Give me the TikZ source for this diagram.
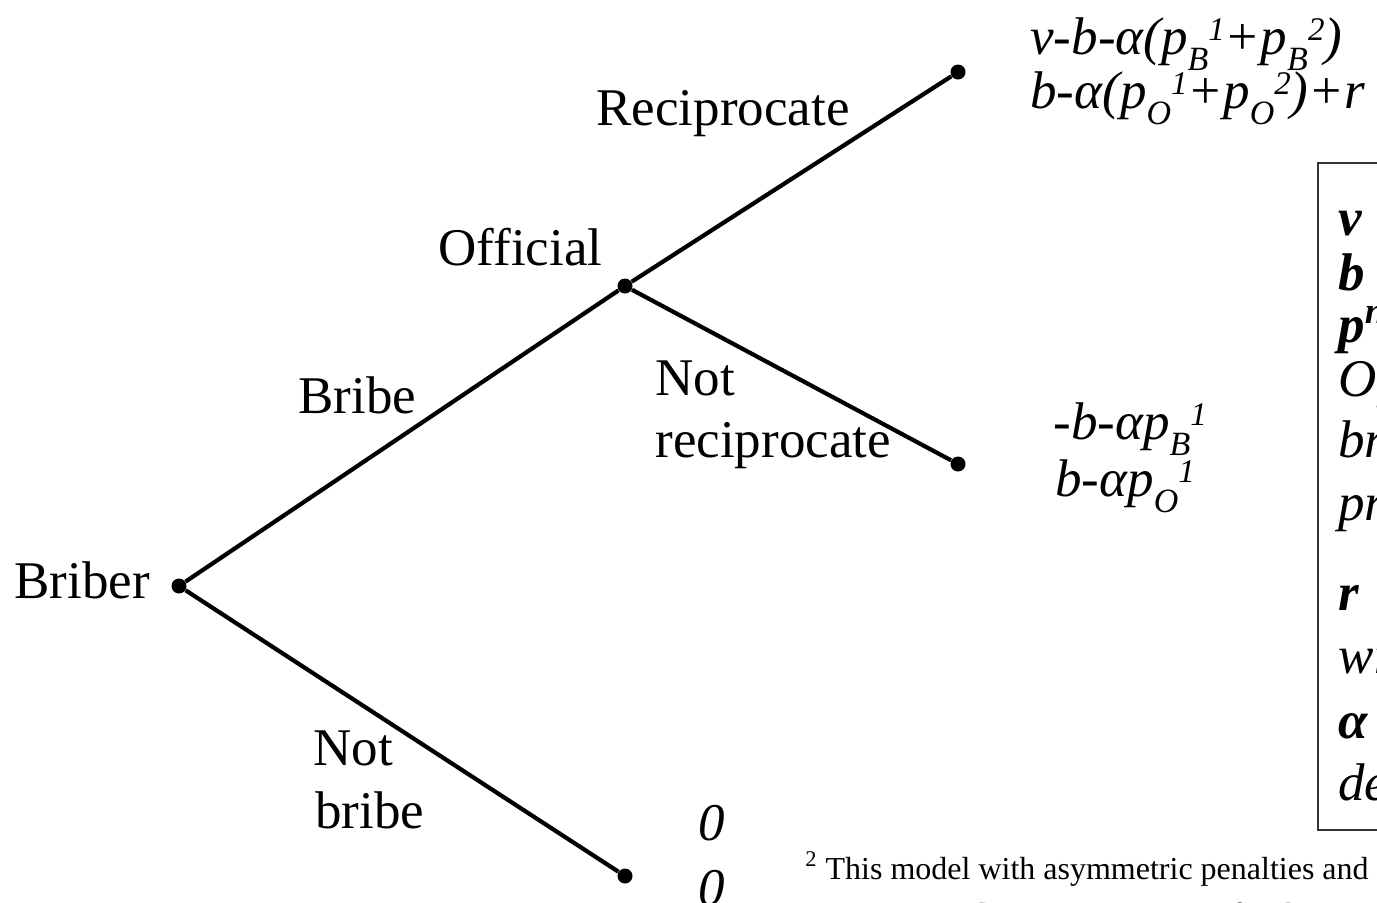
\documentclass[tikz,border=0pt]{standalone}
\usepackage{fontspec}
\setmainfont{Liberation Serif}
\usetikzlibrary{positioning}
\tikzset{
  dot/.style={circle, fill=black, inner sep=0pt, minimum size=7.5pt},
  branch/.style={line width=2.1pt},
  lbl/.style={inner sep=0pt, anchor=base west, font=\fontsize{26.5}{30}\selectfont},
  pay/.style={lbl, font=\fontsize{26.5}{30}\selectfont\itshape},
  key/.style={lbl, font=\fontsize{26.5}{30}\selectfont\itshape},
  note/.style={inner sep=0pt, anchor=base west, font=\fontsize{16}{20}\selectfont}
}
% lowered and raised indices of the payoffs
\newcommand{\lo}[1]{\raisebox{-8pt}{\fontsize{17}{17}\selectfont #1}}
\newcommand{\hi}[1]{\raisebox{7pt}{\fontsize{16.5}{17}\selectfont #1}}
\begin{document}
\begin{tikzpicture}[x=0.5pt, y=-0.5pt]
\path[use as bounding box, clip] (0,0) rectangle (1377,902);
% decision nodes
\node[dot] (briber) at (179,586) {};
\node[dot] (official) at (625,286) {};
\node[dot] (recip) at (958,72) {};
\node[dot] (norecip) at (958,464) {};
\node[dot] (nobribe) at (625,876) {};
% branches
\draw[branch] (briber) -- (official);
\draw[branch] (briber) -- (nobribe);
\draw[branch] (official) -- (recip);
\draw[branch] (official) -- (norecip);
% players and actions
\node[lbl] (tbriber) at (14,598) {Briber};
\node[lbl] (tofficial) at (438,265) {Official};
\node[lbl] (trecip) at (596,125) {Reciprocate};
\node[lbl] (tbribe) at (298,413) {Bribe};
\node[lbl] (tnot1) at (655,395) {Not};
\node[lbl] (tnorecip) at (655,457) {reciprocate};
\node[lbl] (tnot2) at (313,765) {Not};
\node[lbl] (tnobribe) at (315,828) {bribe};
% payoffs
\node[pay] (payb1) at (1030,54) {v-b-α(p\lo{B}\hi{1}+p\lo{B}\hi{2})};
\node[pay] (payo1) at (1030,108) {b-α(p\lo{O}\hi{1}+p\lo{O}\hi{2})+r};
\node[pay] (payb2) at (1053,439) {-b-αp\lo{B}\hi{1}};
\node[pay] (payo2) at (1055,496) {b-αp\lo{O}\hi{1}};
\node[pay] (payb3) at (698,840) {0};
\node[pay] (payo3) at (698,905) {0};
% legend box
\draw[line width=0.6pt, black!80] (1318,163) rectangle (1420,830);
\node[key] (kv) at (1338,235) {\bfseries v};
\node[key] (kb) at (1338,290) {\bfseries b};
\node[key] (kp) at (1338,342) {\bfseries p\textsuperscript{n}};
\node[key] (kof) at (1338,396) {Of};
\node[key] (kbr) at (1338,457) {br};
\node[key] (kpr) at (1338,520) {pr};
\node[key] (kr) at (1338,610) {\bfseries r};
\node[key] (kwi) at (1338,673) {wi};
\node[key] (ka) at (1338,738) {\bfseries α};
\node[key] (kde) at (1338,800) {de};
% footnote
\node[note] (fn1) at (805,879) {\textsuperscript{2} This model with asymmetric penalties and s};
\node[note] (fn2) at (822,925) {minority and giving motivation for the};
\end{tikzpicture}
\end{document}
